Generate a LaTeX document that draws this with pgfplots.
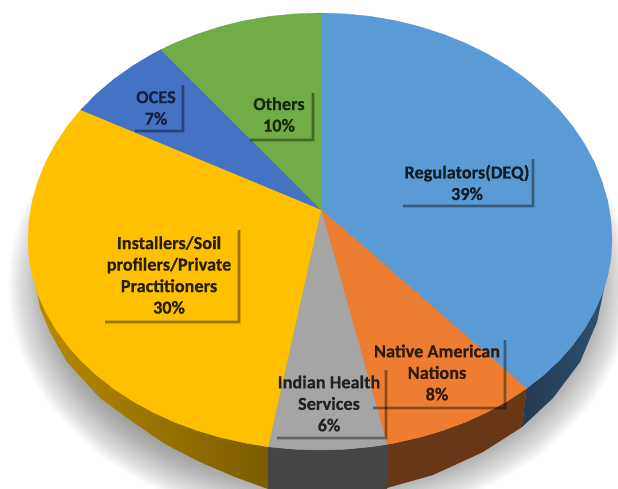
\documentclass[border=0pt]{standalone}
\usepackage{pgfplots}
\usepackage{pgfplotstable}
\usepackage{fontspec}
\setmainfont[BoldFeatures={FakeBold=0.5}]{Carlito}
\pgfplotsset{compat=1.18}

\definecolor{regblue}{HTML}{5B9BD5}
\definecolor{natorange}{HTML}{ED7D31}
\definecolor{ihsgrey}{HTML}{A5A5A5}
\definecolor{instyellow}{HTML}{FFC000}
\definecolor{ocesblue}{HTML}{4472C4}
\definecolor{othgreen}{HTML}{70AD47}

% unit outline for the soft drop shadow under the pie
\pgfplotstableread{
x y
1.000 0.000
0.966 0.259
0.866 0.500
0.707 0.707
0.500 0.866
0.259 0.966
0.000 1.000
-0.259 0.966
-0.500 0.866
-0.707 0.707
-0.866 0.500
-0.966 0.259
-1.000 0.000
-0.966 -0.259
-0.866 -0.500
-0.707 -0.707
-0.500 -0.866
-0.259 -0.966
0.000 -1.000
0.259 -0.966
0.500 -0.866
0.707 -0.707
0.866 -0.500
0.966 -0.259
}\shadowoutline

\tikzset{
  slicelabel/.style={font=\fontsize{18.3}{21.5}\selectfont\bfseries, align=center, inner sep=0pt},
  boxedge/.style={black, opacity=0.30, line width=1.6pt},
  boxglow/.style={black, opacity=0.14, line width=3.6pt}
}
% soft right and bottom edges of a label box: left end, corner, top end
\newcommand{\boxedges}[4]{%
  \draw[boxglow] (axis cs:#1,#4) -- (axis cs:#2,#4) -- (axis cs:#2,#3);
  \draw[boxedge] (axis cs:#1,#4) -- (axis cs:#2,#4) -- (axis cs:#2,#3);
}

\begin{document}
\begin{tikzpicture}
\begin{axis}[
  scale only axis, width=618pt, height=489pt,
  xmin=0, xmax=618, ymin=0, ymax=489, y dir=reverse,
  hide axis, clip=true, no markers
]
% drop shadow: stacked translucent ellipses
\pgfplotsinvokeforeach{0,...,23}{
  \addplot[fill=black, fill opacity=0.02, draw=none, smooth cycle]
    table[x expr={320+\thisrow{x}*(268+#1*1.9)}, y expr={285-\thisrow{y}*(195+#1*1.95)}] {\shadowoutline};
}

% side walls
\addplot[draw=none, left color=instyellow!72!black, right color=instyellow!48!black] coordinates {
 (36,286) (38,294.4) (45.6,311.8) (55.4,328.7) (67.1,345) (80.8,360.5) (96.3,375) (113.5,388.5)
 (132.3,400.9) (152.5,412) (174,421.9) (196.6,430.3) (220.1,437.3) (244.4,442.8) (269.3,446.8)
 (268,489) (235,477) (200,462) (165,444) (133,422) (100,398) (67,362) (50,332) (40,308) (36,286)};
\addplot[fill=ihsgrey!42!black, draw=none] coordinates {
 (268,446.8) (294.5,449.2) (320,450) (345.5,449.2) (370.7,446.8) (387,444.4)
 (387,495) (268,495) (268,446.8)};
\addplot[fill=natorange!44!black, draw=none] coordinates {
 (387,444.4) (395.6,442.8) (419.9,437.3) (443.4,430.3) (466,421.9) (487.5,412) (507.7,400.9) (526.5,388.5)
 (522,427) (483,452) (433,475) (387,488) (387,444.4)};
\addplot[draw=none, left color=regblue!38!black, right color=regblue!52!black] coordinates {
 (526.5,388.5) (543.7,375) (559.2,360.5) (572.9,345) (584.6,328.7) (594.4,311.8) (602,294.4) (607.6,272)
 (597,322) (580,362) (553,398) (522,427) (526.5,388.5)};

% top face, one wedge per stakeholder group
\addplot[fill=regblue, draw=regblue, line width=0.3pt] coordinates {
 (321,209.5) (526.5,388.5) (543.7,375) (559.2,360.5) (572.9,345) (584.6,328.7) (594.4,311.8) (602,294.4)
 (607.6,276.5) (610.9,258.3) (612,240) (610.9,220.2) (607.6,200.6) (602,181.3) (594.4,162.4) (584.6,144.1)
 (572.9,126.5) (559.2,109.8) (543.7,94.1) (526.5,79.5) (507.7,66.1) (487.5,54) (466,43.4) (443.4,34.3)
 (419.9,26.7) (395.6,20.7) (370.7,16.4) (345.5,13.9) (321,13) (321,209.5)};
\addplot[fill=natorange, draw=natorange, line width=0.3pt] coordinates {
 (321,209.5) (387,444.4) (395.6,442.8) (419.9,437.3) (443.4,430.3) (466,421.9) (487.5,412) (507.7,400.9)
 (526.5,388.5) (321,209.5)};
\addplot[fill=ihsgrey, draw=ihsgrey, line width=0.3pt] coordinates {
 (321,209.5) (268,446.8) (294.5,449.2) (320,450) (345.5,449.2) (370.7,446.8) (387,444.4) (321,209.5)};
\addplot[fill=instyellow, draw=instyellow, line width=0.3pt] coordinates {
 (321,209.5) (80.8,109.8) (67.1,126.5) (55.4,144.1) (45.6,162.4) (38,181.3) (32.4,200.6) (29.1,220.2) (28,240)
 (29.1,258.3) (32.4,276.5) (38,294.4) (45.6,311.8) (55.4,328.7) (67.1,345) (80.8,360.5) (96.3,375) (113.5,388.5)
 (132.3,400.9) (152.5,412) (174,421.9) (196.6,430.3) (220.1,437.3) (244.4,442.8) (268,446.8) (321,209.5)};
\addplot[fill=ocesblue, draw=ocesblue, line width=0.3pt] coordinates {
 (321,209.5) (161,49.6) (152.5,54) (132.3,66.1) (113.5,79.5) (96.3,94.1) (80.8,109.8) (321,209.5)};
\addplot[fill=othgreen, draw=othgreen, line width=0.3pt] coordinates {
 (321,209.5) (321,13) (294.5,13.9) (269.3,16.4) (244.4,20.7) (220.1,26.7) (196.6,34.3) (174,43.4) (161,49.6) (321,209.5)};

% label boxes show only their shadowed right and bottom edges
\boxedges{403}{533}{159}{206}
\boxedges{250}{313}{93}{140}
\boxedges{135}{183}{85}{131}
\boxedges{105}{239}{230}{322}
\boxedges{373}{505}{340}{408}
\boxedges{277}{386}{370}{438}

\node[slicelabel, text=regblue!18!black] at (axis cs:467,182.5) {Regulators(DEQ)\\39\%};
\node[slicelabel, text=othgreen!22!black] at (axis cs:279,114.5) {Others\\10\%};
\node[slicelabel, text=ocesblue!30!black] at (axis cs:156,108) {OCES\\7\%};
\node[slicelabel, text=instyellow!15!black] at (axis cs:169,275) {Installers/Soil\\profilers/Private\\Practitioners\\30\%};
\node[slicelabel, text=natorange!20!black] at (axis cs:437,372.5) {Native American\\Nations\\8\%};
\node[slicelabel, text=ihsgrey!20!black] at (axis cs:329,403.5) {Indian Health\\Services\\6\%};
\end{axis}
% the page is exactly the plot area; shadow layers overhanging it are cut off
\pgfresetboundingbox
\path[use as bounding box] (0,0) rectangle (618pt,489pt);
\end{tikzpicture}
\end{document}
